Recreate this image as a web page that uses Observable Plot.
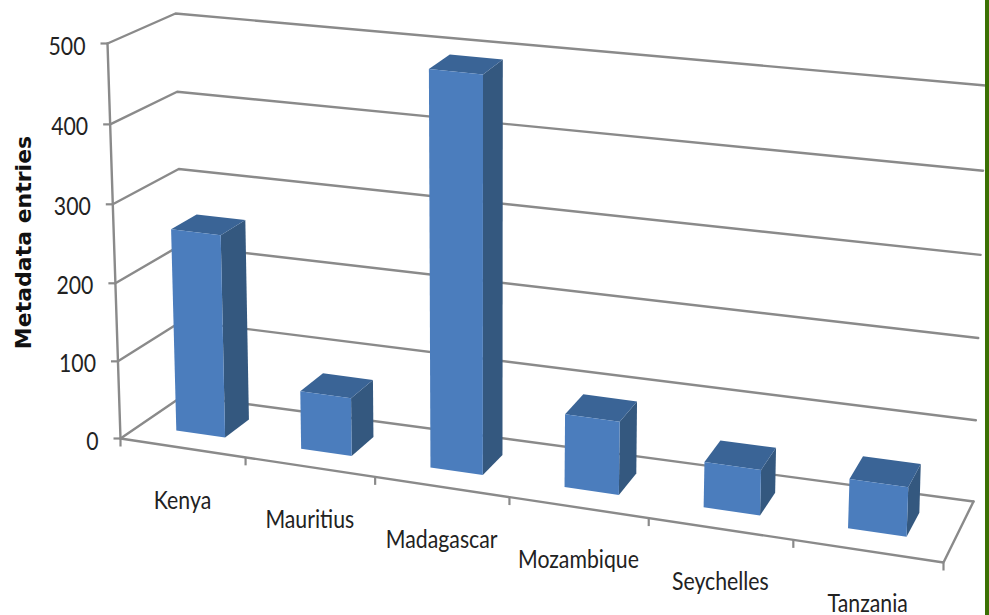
<!DOCTYPE html>
<html><head><meta charset="utf-8">
<script src="https://cdn.jsdelivr.net/npm/d3@7"></script>
<script src="https://cdn.jsdelivr.net/npm/@observablehq/plot@0.6"></script>
<style>
html,body{margin:0;padding:0;background:#fff}
#chart{position:relative;width:989px;height:615px;overflow:hidden}
#chart svg{display:block}
#edge{position:absolute;left:985px;top:0;width:4px;height:615px;background:#3b7003}
</style></head><body>
<div id="chart"><div id="edge"></div></div>
<script>
const categories = ["Kenya","Mauritius","Madagascar","Mozambique","Seychelles","Tanzania"];
const values = [260, 74, 494, 91, 56, 60];
const valueTicks = [0,100,200,300,400,500];
const yTitle = "Metadata entries";

// 3D box of the chart: pixel corners [category end, depth, value]
const corners = {
  "000":[120,438], "001":[107,43], "010":[183,395], "011":[175,13],
  "100":[943,562], "101":[961,132], "110":[973,501], "111":[985,85]
};
const persp = (s,r) => s/(s+(1-s)*r);
const mix = (a,b,t) => [a[0]+(b[0]-a[0])*t, a[1]+(b[1]-a[1])*t];
function P(u,d,v){
  const a = persp(u/categories.length,1.116), c = persp(v/500,1.03);
  const at = (i,j,k) => corners[""+i+j+k];
  const f0 = mix(mix(at(0,0,0),at(1,0,0),a), mix(at(0,1,0),at(1,1,0),a), d);
  const f1 = mix(mix(at(0,0,1),at(1,0,1),a), mix(at(0,1,1),at(1,1,1),a), d);
  return mix(f0,f1,c);
}
const pt = (id,p) => ({id,x:p[0],y:p[1]});
const n = categories.length;

const gridLines = valueTicks.flatMap(v => [P(0,0,v),P(0,1,v),P(n,1,v)].map(p => pt("g"+v,p)));
const axisLines = [
  ...[P(0,0,0),P(0,0,500)].map(p=>pt("axisY",p)),
  ...[P(0,0,0),P(n,0,0),P(n,1,0)].map(p=>pt("floor",p)),
];
const yTicks = valueTicks.map(v => ({v,p:P(0,0,v)}));
const xTicks = d3.range(n+1).map(i => P(i,0,0));

const barW = 0.395, d0 = 0.31, d1 = 0.71;
const frontFaces=[], sideFaces=[], topFaces=[];
categories.forEach((c,i)=>{
  const v = values[i], u0 = i+0.495-barW/2, u1 = i+0.495+barW/2;
  [P(u0,d0,0),P(u1,d0,0),P(u1,d0,v),P(u0,d0,v)].forEach(p=>frontFaces.push(pt(c,p)));
  [P(u1,d0,0),P(u1,d1,0),P(u1,d1,v),P(u1,d0,v)].forEach(p=>sideFaces.push(pt(c,p)));
  [P(u0,d0,v),P(u1,d0,v),P(u1,d1,v),P(u0,d1,v)].forEach(p=>topFaces.push(pt(c,p)));
});

const labelFont = "Lato,'Open Sans',sans-serif";
const plot = Plot.plot({
  width: 989, height: 615,
  margin: 0,
  x: {type:"linear", domain:[0,989], range:[0,989], axis:null},
  y: {type:"linear", domain:[0,615], range:[0,615], axis:null},
  marks: [
    Plot.line(gridLines,{x:"x",y:"y",z:"id",stroke:"#8a8a8a",strokeWidth:2.4}),
    Plot.line(axisLines,{x:"x",y:"y",z:"id",stroke:"#8a8a8a",strokeWidth:2.4}),
    Plot.link(yTicks,{x1:d=>d.p[0],y1:d=>d.p[1],x2:d=>d.p[0]-7,y2:d=>d.p[1],stroke:"#8a8a8a",strokeWidth:2.2}),
    Plot.link(xTicks,{x1:d=>d[0],y1:d=>d[1],x2:d=>d[0],y2:d=>d[1]+8,stroke:"#8a8a8a",strokeWidth:2.2}),
    Plot.line(sideFaces,{x:"x",y:"y",z:"id",fill:"#34587f",stroke:"none"}),
    Plot.line(topFaces,{x:"x",y:"y",z:"id",fill:"#3a6496",stroke:"none"}),
    Plot.line(frontFaces,{x:"x",y:"y",z:"id",fill:"#4b7dbd",stroke:"none"}),
    Plot.text(yTicks,{x:d=>d.p[0],y:d=>d.p[1],text:d=>String(d.v),dx:-22,dy:3,textAnchor:"end",
      fontFamily:labelFont,fontSize:25,fill:"#222",className:"narrow"}),
    Plot.text(categories,{x:(c,i)=>P(i+0.5,0,0)[0],y:(c,i)=>P(i+0.5,0,0)[1],text:c=>c,dy:53,textAnchor:"middle",
      fontFamily:labelFont,fontSize:25,fill:"#222",className:"narrow"}),
    Plot.text([yTitle],{x:[23],y:[242],text:d=>d,rotate:-90,textAnchor:"middle",
      fontFamily:"'DejaVu Sans',sans-serif",fontWeight:"bold",fontSize:22,fill:"#111",className:"title"})
  ]
});
document.getElementById("chart").prepend(plot);
// The reference's labels are a condensed face: squeeze the glyphs horizontally.
plot.querySelectorAll(".narrow text").forEach(t=>{
  t.setAttribute("textLength", t.getComputedTextLength()*0.85);
  t.setAttribute("lengthAdjust","spacingAndGlyphs");
});
</script>
</body></html>
